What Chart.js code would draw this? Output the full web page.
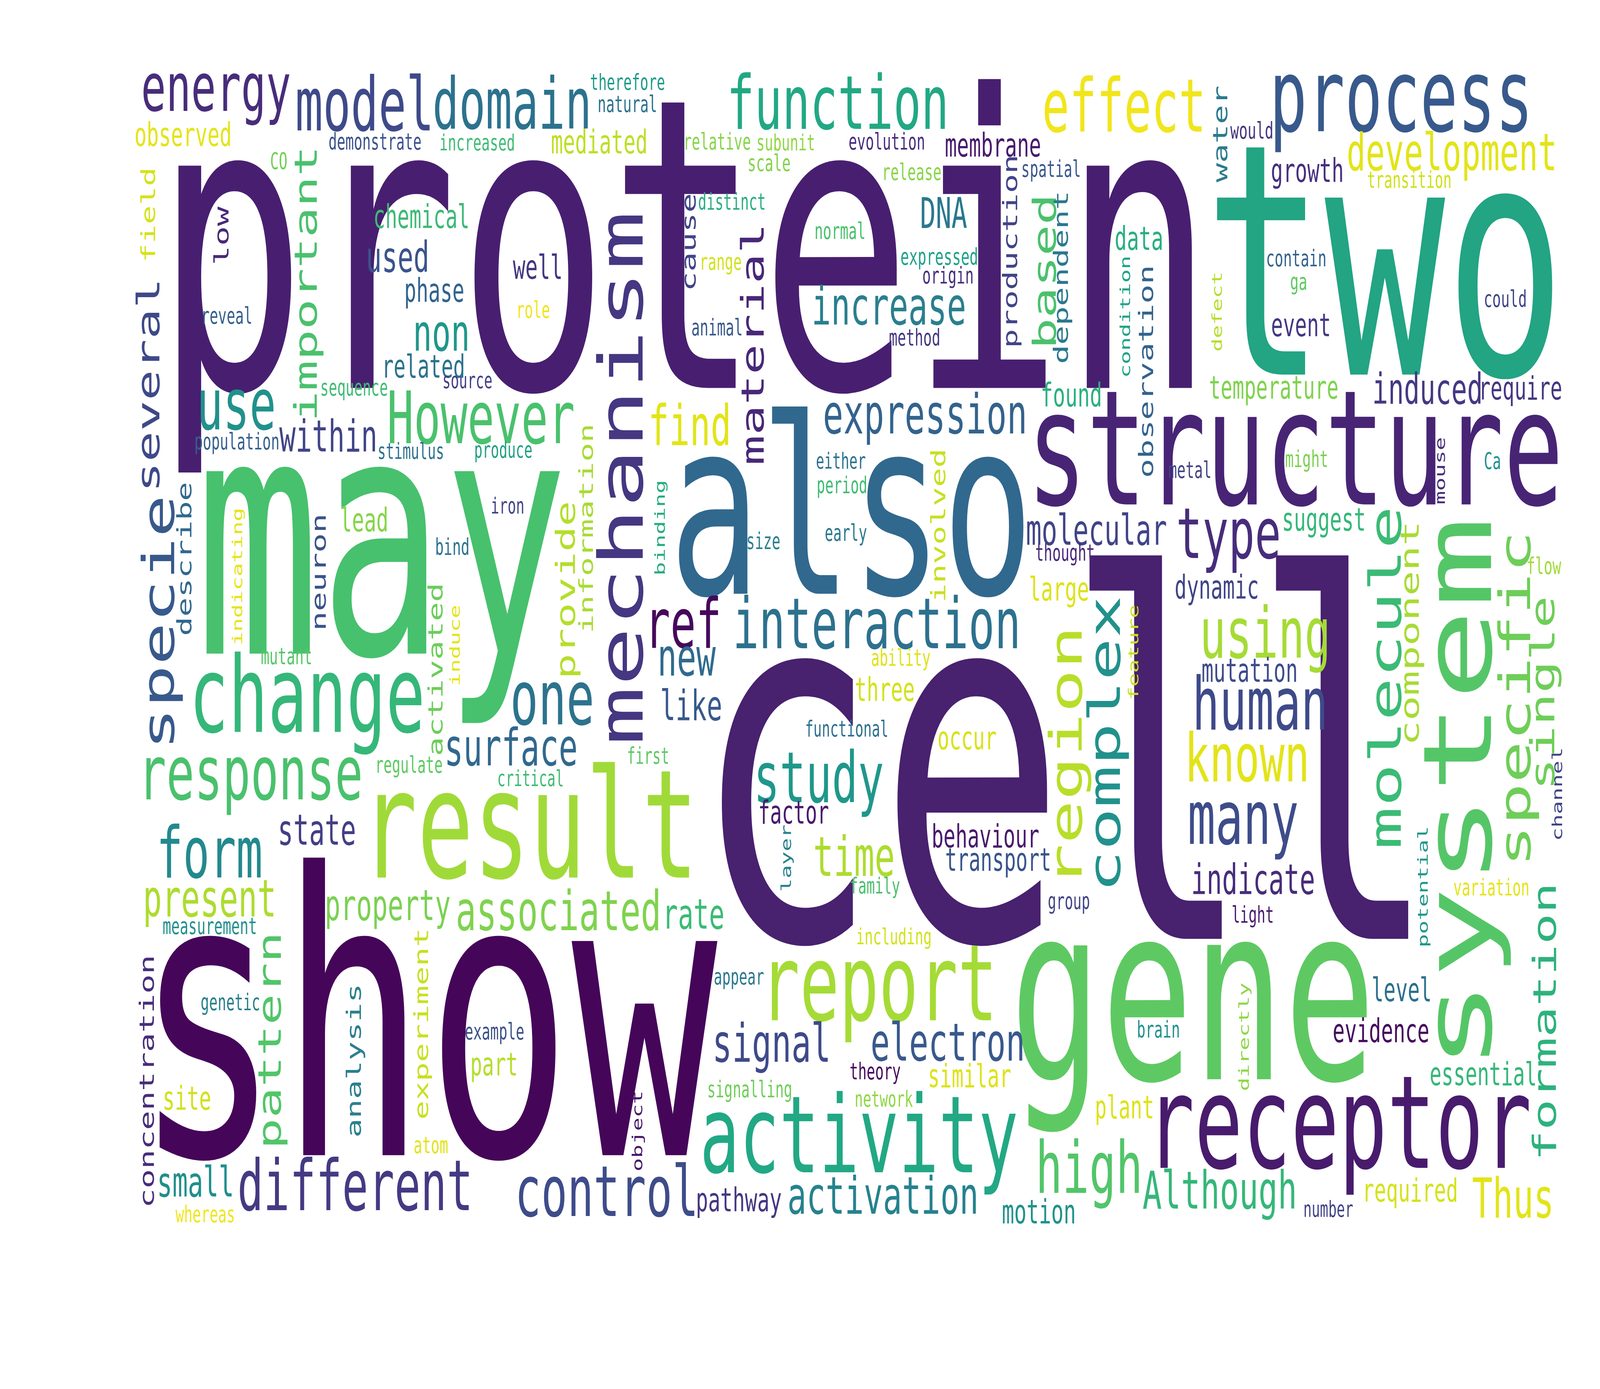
<!DOCTYPE html>
<html><head><meta charset="utf-8">
<script src="https://cdn.jsdelivr.net/npm/chart.js@4.4.0/dist/chart.umd.min.js"></script>
<style>html,body{margin:0;padding:0;background:#fff;overflow:hidden;width:100%;height:100%}#wrap{width:100vw;height:100vh;position:relative}</style>
</head><body><div id="wrap"><canvas id="c"></canvas></div>
<script>
// Word cloud data: word, position in cloud space (0..1560 x 0..837), font size (cloud units), colour
const words = ["protein","cell","show","two","may","also","gene","structure","result","system","receptor","activity","report","change","process","mechanism","response","function","model","effect","energy","domain","human","However","one","different","control","many","using","known","type","interaction","ref","study","form","high","specie","region","complex","molecule","specific","development","expression","increase","surface","associated","present","signal","electron","activation","Although","Thus","time","find","new","non","several","important","material","based","pattern","formation","single","use","used","within","state","property","rate","small","like","molecular","indicate","induced","DNA","provide","component","chemical","phase","related","observed","mediated","membrane","growth","lead","mutation","dynamic","suggest","large","three","occur","behaviour","transport","factor","similar","plant","motion","pathway","part","site","level","evidence","essential","required","temperature","require","event","found","data","well","field","low","water","production","dependent","observation","cause","describe","neuron","activated","involved","information","concentration","analysis","experiment","genetic","therefore","natural","demonstrate","increased","relative","subunit","scale","evolution","would","transition","CO","reveal","sequence","source","population","stimulus","produce","iron","bind","indicating","mutant","induce","regulate","critical","measurement","whereas","atom","example","appear","signalling","object","theory","network","brain","number","directly","variation","potential","light","group","including","family","layer","first","functional","ability","feature","either","period","early","size","binding","thought","metal","might","mouse","Ca","flow","channel","distinct","normal","range","role","animal","release","expressed","origin","method","spatial","condition","defect","contain","ga","could"];
const cloudX = [666.5,1039.8,427.2,1351,374.5,830.6,1162.4,1265,520,1430.9,1311,838.5,859.3,300.5,1366,604.4,247,817,354.5,1095,211,498.5,1229,469.5,538.5,345.5,591.5,1212.4,1233.5,1216.5,1198,854.9,668,799.7,205.3,1062,157.5,1042.8,1080,1349.9,1480.2,1414.8,901.5,867.2,499,544,204.2,752.4,923.6,860.5,1188.2,1474,832.8,672.5,670.8,430.4,144,300.4,733.2,1018,266,1505.5,1506.6,231.2,387.7,319,309.5,378.7,677.5,190.7,674.1,1069.2,1222,1391.8,920.7,553.2,1376.9,410.7,423.7,413.5,178.3,583.9,968,1274.4,355,1218,1186.2,1290.8,1032.7,862.7,943.2,961.2,973,774.3,946,1096.3,1012.4,720.8,481.6,182.8,1366.5,1346.5,1445.8,1375.7,1242,1483.6,1268.1,1044.5,1110.3,523.4,144,215.4,1189.7,986.6,1036.1,1117.1,673,179.4,312.2,424.2,914.5,571.1,142.8,346.6,411.9,224.5,612,611.7,365.7,465.4,700,766,750,864.5,1220,1374,272,221.6,345.5,456,231,400.5,491,495,441,232.3,279,443.4,399.5,517.2,204.2,199.6,420.3,482.2,720.8,731,622.4,853.5,862.2,1129.4,1295.4,1213.9,1453.8,1388.3,1221.3,1042.2,871.7,853.5,767.6,632,825.5,878.5,1104.7,820,821,825,744.5,644.4,1038.3,1159.8,1273.6,1405,1455,1506,1518,713.5,819,703.4,520.5,698.9,889.7,915.6,924.1,891.4,1024.8,1096.8,1186.3,1263.8,1266,1467.6];
const cloudY = [166.8,452.5,607.6,158.7,359.3,302.5,624.9,270.8,494.5,475.8,684.5,688.5,599,423.5,68,288,473.6,61,61.7,63,59.5,61.5,423.2,251.5,424.2,713.6,716.7,500.8,384.6,455.7,325.5,375,375,471.8,513,707,374.2,454,447.1,408.4,420.7,94,252,183.9,449.5,548.4,544.5,631,627.6,719.8,720,721.3,515.5,255.5,398.3,202.7,232,171,208,163.6,627,615.7,417,247,154,262,500.3,548,550.7,711.7,424.6,319,529.6,233.6,128,355,381.5,130.3,176.6,220.3,80.7,85.2,87.1,104.3,313,403.7,355.5,314.8,356.6,415.1,446.5,503.3,520,489.3,647.8,668.5,729.7,724.7,643.2,661.6,596.2,620.7,646.6,718.7,235.5,235.5,195.7,237.8,143.4,160.5,129.5,141.4,81,151.4,167.4,224,145.6,336.7,344.8,403.7,316.8,318.5,651.6,639.4,617.2,605,49.2,62.6,85.2,85.6,85.2,85.6,97.8,85.2,78.3,108.2,96.7,190,236,230.2,267,271.5,272,304.5,329,347.4,395.2,388.7,461.8,468.7,557.9,731.6,689.9,622.5,590.8,657.4,681.8,646.7,662,620,728.2,624.5,534.6,534.4,552.2,545.3,565.2,534.6,517,455.3,438.8,397.5,392.9,277.4,293.5,322,326,317.9,334,282.7,277.4,283.7,277.4,340.5,478.6,121.5,139,160.2,186.6,197,103.6,155.6,167.1,203,102.8,190.8,188,155.2,172,179.7];
const fontSize = [245,302,236,195,201,147.5,148,96.5,91,92.7,78,64.5,64,63.7,61,59.5,45.5,45,45,44.3,40.5,43,44,43.5,45.5,42.4,42.5,45,42.5,40.5,42.5,42.4,41.5,42.2,43,43.4,42.6,43.7,42.5,43,42.1,31,33.1,31.3,30.9,33.3,30.9,32,31.3,31,31.3,33.2,33.2,33.6,31.5,30.8,30.7,30.7,30.3,31.1,31.1,31,32.5,42.9,25.7,26.5,25.4,25.5,25.2,25,25.2,25.4,25.1,25.6,25.5,25.5,25,19.5,19.5,19.3,19.7,19.6,19.5,19.7,19.7,19.5,19.5,19.4,19.5,19.5,19.2,19.4,19.1,19.1,19.3,19.2,20,19.9,19.3,19.7,19.5,19.6,19.3,19.4,19.1,19.4,19.4,19.9,19.7,20.2,19.1,19.6,19.4,19.4,19.3,19.4,19.7,19.3,19.6,19.3,19.3,19.1,19.5,19.3,19.2,13.8,13.5,13.8,13.7,13.6,13.7,13.6,14,13.8,14,13.7,14,13.9,13.7,13.5,13.8,13.5,13.5,13.6,14,13.8,13.9,13.6,13.7,13.5,13.9,13.8,14,13.8,13.6,13.8,13.5,13.8,13.5,14,13.5,13.6,13.7,13.5,13.7,13.7,13.6,13.6,13.5,13.7,13.5,13.8,13.7,13.5,13.7,13.7,13.8,13.7,13.8,14,14,13.5,13.9,14,13.4,13.7,13.8,13.7,13.8,13.9,13.8,14,13.9,13.9,13.8,13.6,13.4,14,14,14];
// Words set vertically (rotated, reading bottom to top)
const verticalWords = ["system","mechanism","specie","region","complex","molecule","specific","several","important","material","based","pattern","formation","single","provide","component","field","low","water","production","dependent","observation","cause","describe","neuron","activated","involved","information","concentration","analysis","experiment","indicating","induce","object","directly","potential","layer","feature","binding","mouse","channel","condition","defect"];
const colors = ["#481f70","#48216f","#450559","#23a483","#47c16e","#31688e","#5ec962","#482475","#a0da39","#55c667","#481b6d","#22a884","#a5db36","#35b779","#38598c","#453781","#4ac16d","#22a884","#3e4a89","#f1e51d","#472d7b","#2c728e","#3e4a89","#4ac16d","#2c738e","#443a83","#3e4c8a","#3e4c8a","#a5db36","#e2e418","#472d7b","#2d718e","#46085c","#1f978b","#23898e","#52c569","#38598c","#b8de29","#21918c","#3bbb75","#6ece58","#e2e418","#33638d","#2a7f8e","#31688e","#7fd34e","#addc30","#3e4a89","#38598c","#26828e","#35b779","#e2e418","#addc30","#e2e418","#2f6b8e","#1f978b","#3e4989","#4ac16d","#482878","#4ac16d","#52c569","#2db27d","#6ece58","#21918c","#3a548c","#414487","#423f85","#7ad151","#3cbb75","#1f8f8c","#38598c","#414487","#472d7b","#443983","#2a788e","#b5de2b","#a8db34","#3eb977","#33638d","#2c728e","#e5e419","#bddf26","#481a6c","#472f7d","#86d549","#3e4c8a","#414487","#35b779","#dde318","#d2e21b","#d8e219","#481a6c","#3a548c","#481a6c","#dde318","#dde318","#21918c","#453781","#b5de2b","#d2e21b","#2d708e","#460b5e","#35b779","#d5e21a","#7fd34e","#453781","#443983","#2ab07f","#29af7f","#453781","#d5e21a","#482878","#2c7a8e","#414487","#2a788e","#33638d","#414487","#31688e","#3b528b","#6ccd5a","#c8e020","#a8db34","#472d7b","#2c7f8e","#c8e020","#277f8e","#1f9a8a","#2c728e","#3b528b","#3dbc74","#86d549","#8fd744","#83d34b","#472d7b","#46337e","#d0e11c","#70cf57","#355f8d","#3fbc73","#433e85","#35608d","#2c728e","#23a083","#414487","#2c728e","#e5e419","#55c667","#e5e419","#5ec962","#3fbc73","#21918c","#f1e51d","#e2e418","#3b528b","#2a788e","#6ece58","#481769","#46085c","#8fd744","#21918c","#414487","#8ed645","#e5e419","#1f978b","#481c6e","#414487","#d2e21b","#4ac16d","#26828e","#5ec962","#2d708e","#dde318","#c8e020","#2c728e","#3fbc73","#2a788e","#2a7f8e","#26ad81","#482878","#414487","#7ad151","#472d7b","#21918c","#a0da39","#414487","#28ae80","#4ac16d","#d2e21b","#f1e51d","#38598c","#86d549","#1fa188","#472f7d","#453781","#38598c","#20a386","#b5de2b","#33638d","#5ec962","#414487"];

const CLOUD_W = 1560, CLOUD_H = 837;
const FONT = '"DejaVu Sans Mono", "Liberation Mono", monospace';

const wordPlugin = {
  id: 'wordLabels',
  afterDatasetsDraw(chart) {
    const ctx = chart.ctx;
    const meta = chart.getDatasetMeta(0);
    const xs = chart.scales.x, ys = chart.scales.y;
    const kx = Math.abs(xs.getPixelForValue(CLOUD_W) - xs.getPixelForValue(0)) / CLOUD_W;
    const ky = Math.abs(ys.getPixelForValue(CLOUD_H) - ys.getPixelForValue(0)) / CLOUD_H;
    ctx.save();
    ctx.textAlign = 'left';
    ctx.textBaseline = 'alphabetic';
    meta.data.forEach((pt, i) => {
      const fs = fontSize[i] * kx;
      ctx.font = fs + 'px ' + FONT;
      const m = ctx.measureText(words[i]);
      const ox = -(m.actualBoundingBoxRight - m.actualBoundingBoxLeft) / 2;
      const oy = (m.actualBoundingBoxAscent - m.actualBoundingBoxDescent) / 2;
      ctx.fillStyle = colors[i];
      ctx.save();
      ctx.translate(pt.x, pt.y);
      ctx.scale(1, ky / kx);
      if (verticalWords.includes(words[i])) ctx.rotate(-Math.PI / 2);
      ctx.fillText(words[i], ox, oy);
      ctx.restore();
    });
    ctx.restore();
  }
};

new Chart(document.getElementById('c'), {
  type: 'scatter',
  data: {
    datasets: [{
      label: 'words',
      data: words.map((w, i) => ({ x: cloudX[i], y: cloudY[i] })),
      pointRadius: 0,
      pointHoverRadius: 0
    }]
  },
  options: {
    responsive: true,
    maintainAspectRatio: false,
    animation: false,
    layout: { padding: 0 },
    plugins: { legend: { display: false }, tooltip: { enabled: false } },
    scales: {
      x: { type: 'linear', min: 0, max: CLOUD_W, display: false },
      y: { type: 'linear', min: 0, max: CLOUD_H, reverse: true, display: false }
    }
  },
  plugins: [wordPlugin]
});
</script>
</body></html>
